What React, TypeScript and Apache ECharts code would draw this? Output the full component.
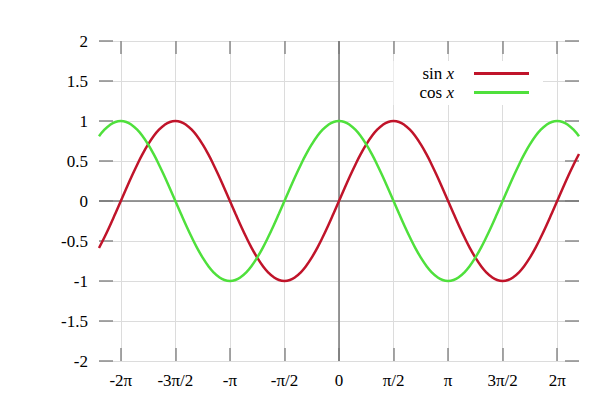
import { useEffect, useRef } from 'react'
import * as echarts from 'echarts'

// x positions in units of pi (step pi/20, from -2.2pi to 2.2pi)
const xInPi = [
  -2.2, -2.15, -2.1, -2.05, -2.0, -1.95, -1.9, -1.85, -1.8, -1.75, -1.7, -1.65,
  -1.6, -1.55, -1.5, -1.45, -1.4, -1.35, -1.3, -1.25, -1.2, -1.15, -1.1, -1.05,
  -1.0, -0.95, -0.9, -0.85, -0.8, -0.75, -0.7, -0.65, -0.6, -0.55, -0.5, -0.45,
  -0.4, -0.35, -0.3, -0.25, -0.2, -0.15, -0.1, -0.05, 0, 0.05, 0.1, 0.15, 0.2,
  0.25, 0.3, 0.35, 0.4, 0.45, 0.5, 0.55, 0.6, 0.65, 0.7, 0.75, 0.8, 0.85, 0.9,
  0.95, 1.0, 1.05, 1.1, 1.15, 1.2, 1.25, 1.3, 1.35, 1.4, 1.45, 1.5, 1.55, 1.6,
  1.65, 1.7, 1.75, 1.8, 1.85, 1.9, 1.95, 2.0, 2.05, 2.1, 2.15, 2.2,
]

const sinValues = [
  -0.588, -0.454, -0.309, -0.156, 0,
  0.156, 0.309, 0.454, 0.588, 0.707, 0.809, 0.891, 0.951, 0.988, 1,
  0.988, 0.951, 0.891, 0.809, 0.707, 0.588, 0.454, 0.309, 0.156, 0,
  -0.156, -0.309, -0.454, -0.588, -0.707, -0.809, -0.891, -0.951, -0.988, -1,
  -0.988, -0.951, -0.891, -0.809, -0.707, -0.588, -0.454, -0.309, -0.156, 0,
  0.156, 0.309, 0.454, 0.588, 0.707, 0.809, 0.891, 0.951, 0.988, 1,
  0.988, 0.951, 0.891, 0.809, 0.707, 0.588, 0.454, 0.309, 0.156, 0,
  -0.156, -0.309, -0.454, -0.588, -0.707, -0.809, -0.891, -0.951, -0.988, -1,
  -0.988, -0.951, -0.891, -0.809, -0.707, -0.588, -0.454, -0.309, -0.156, 0,
  0.156, 0.309, 0.454, 0.588,
]

const cosValues = [
  0.809, 0.891, 0.951, 0.988, 1,
  0.988, 0.951, 0.891, 0.809, 0.707, 0.588, 0.454, 0.309, 0.156, 0,
  -0.156, -0.309, -0.454, -0.588, -0.707, -0.809, -0.891, -0.951, -0.988, -1,
  -0.988, -0.951, -0.891, -0.809, -0.707, -0.588, -0.454, -0.309, -0.156, 0,
  0.156, 0.309, 0.454, 0.588, 0.707, 0.809, 0.891, 0.951, 0.988, 1,
  0.988, 0.951, 0.891, 0.809, 0.707, 0.588, 0.454, 0.309, 0.156, 0,
  -0.156, -0.309, -0.454, -0.588, -0.707, -0.809, -0.891, -0.951, -0.988, -1,
  -0.988, -0.951, -0.891, -0.809, -0.707, -0.588, -0.454, -0.309, -0.156, 0,
  0.156, 0.309, 0.454, 0.588, 0.707, 0.809, 0.891, 0.951, 0.988, 1,
  0.988, 0.951, 0.891, 0.809,
]

const xTickValues = [-2, -1.5, -1, -0.5, 0, 0.5, 1, 1.5, 2]
const xTickLabels = ['-2π', '-3π/2', '-π', '-π/2', '0', 'π/2', 'π', '3π/2', '2π']

const seriesNames = ['sin x', 'cos x']
const seriesColors = ['#c0142a', '#4fe03c']

const FONT = 'Liberation Serif'
const FONT_SIZE = 17
const TICK = '#8a8a8a'
const GRID = '#dcdcdc'

export default function App() {
  const chartRef = useRef<HTMLDivElement>(null)

  useEffect(() => {
    if (!chartRef.current) return
    const chart = echarts.init(chartRef.current, null, { renderer: 'svg' })

    const xAxisBase = {
      type: 'value' as const,
      min: -2.2,
      max: 2.2,
      axisLine: { show: false, onZero: false },
      axisTick: {
        show: true,
        inside: true,
        length: 13,
        customValues: xTickValues,
        lineStyle: { color: TICK, width: 1.5 },
      },
    }

    const yAxisBase = {
      type: 'value' as const,
      min: -2,
      max: 2,
      interval: 0.5,
      axisLine: { show: false, onZero: false },
      axisTick: {
        show: true,
        inside: true,
        length: 14,
        lineStyle: { color: TICK, width: 1.5 },
      },
    }

    chart.setOption({
      animation: false,
      grid: { left: 99, right: 19, top: 41, bottom: 55, containLabel: false },
      legend: {
        data: seriesNames,
        orient: 'vertical',
        align: 'right',
        right: 55,
        top: 61,
        icon: 'rect',
        itemWidth: 55,
        itemHeight: 3,
        itemGap: 2,
        padding: [4, 14, 4, 26],
        backgroundColor: '#fff',
        selectedMode: false,
        formatter: (name: string) => {
          const [fn, v] = name.split(' ')
          return `{f|${fn}} {v|${v}}`
        },
        textStyle: {
          fontFamily: FONT,
          fontSize: FONT_SIZE,
          color: '#000',
          rich: {
            f: { fontFamily: FONT, fontSize: FONT_SIZE, color: '#000' },
            v: {
              fontFamily: FONT,
              fontSize: FONT_SIZE,
              fontStyle: 'italic',
              color: '#000',
              padding: [0, 15, 0, 0],
            },
          },
        },
      },
      xAxis: [
        {
          ...xAxisBase,
          position: 'bottom',
          axisLabel: {
            customValues: xTickValues,
            margin: 11,
            fontFamily: FONT,
            fontSize: FONT_SIZE,
            color: '#000',
            formatter: (v: number) => {
              const i = xTickValues.findIndex(t => Math.abs(t - v) < 1e-6)
              return i >= 0 ? xTickLabels[i] : ''
            },
          },
          splitLine: { show: true, lineStyle: { color: GRID, width: 1 } },
        },
        {
          ...xAxisBase,
          position: 'top',
          axisLabel: { show: false, customValues: xTickValues },
          splitLine: { show: false },
        },
      ],
      yAxis: [
        {
          ...yAxisBase,
          position: 'left',
          axisLabel: {
            margin: 11,
            fontFamily: FONT,
            fontSize: FONT_SIZE,
            color: '#000',
          },
          splitLine: { show: true, lineStyle: { color: GRID, width: 1 } },
        },
        {
          ...yAxisBase,
          position: 'right',
          axisLabel: { show: false },
          splitLine: { show: false },
        },
      ],
      series: [
        {
          name: seriesNames[0],
          type: 'line',
          xAxisIndex: 0,
          yAxisIndex: 0,
          smooth: true,
          showSymbol: false,
          z: 3,
          color: seriesColors[0],
          lineStyle: { color: seriesColors[0], width: 2.5 },
          data: xInPi.map((x, i) => [x, sinValues[i]]),
          markLine: {
            silent: true,
            symbol: ['none', 'none'],
            label: { show: false },
            lineStyle: { color: '#777', type: 'solid', width: 1.5 },
            data: [{ xAxis: 0 }, { yAxis: 0 }],
            z: 1,
          },
        },
        {
          name: seriesNames[1],
          type: 'line',
          xAxisIndex: 0,
          yAxisIndex: 0,
          smooth: true,
          showSymbol: false,
          z: 3,
          color: seriesColors[1],
          lineStyle: { color: seriesColors[1], width: 2.5 },
          data: xInPi.map((x, i) => [x, cosValues[i]]),
        },
      ],
    })

    return () => {
      chart.dispose()
    }
  }, [])

  return (
    <div
      ref={chartRef}
      style={{ position: 'fixed', left: 0, top: 0, width: 598, height: 416, background: '#fff' }}
    />
  )
}
